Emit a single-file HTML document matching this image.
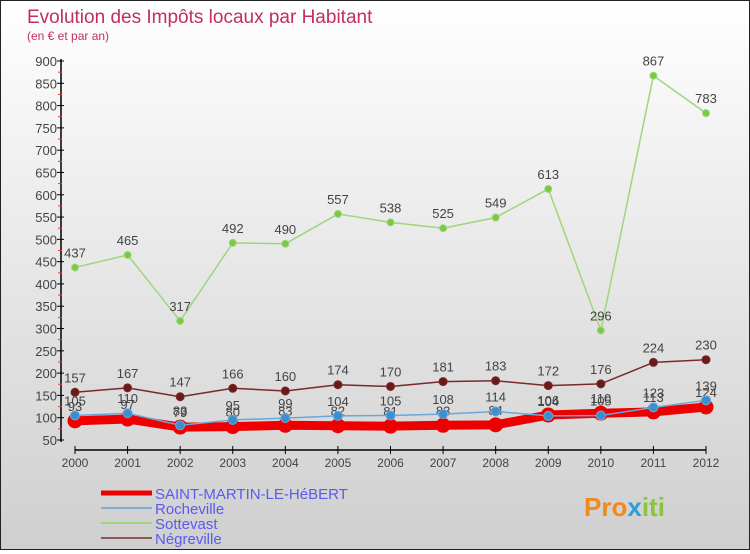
<!DOCTYPE html>
<html><head><meta charset="utf-8"><style>
html,body{margin:0;padding:0}
body{width:750px;height:550px;overflow:hidden;font-family:"Liberation Sans",sans-serif}
#wrap{position:relative;width:748px;height:548px;border:1px solid #222;background:linear-gradient(#ffffff,#f0f0f0 30%,#cfcfcf)}
</style></head><body>
<div id="wrap">
<svg id="chart" width="748" height="548" xmlns="http://www.w3.org/2000/svg">
<text x="26" y="22" font-size="19" fill="#c0305a">Evolution des Impôts locaux par Habitant</text>
<text x="26" y="39" font-size="12" fill="#c0305a">(en € et par an)</text>
<g id="axes"></g><g id="series"></g><g id="legend"></g>
</svg>
</div>
<script>
const years=[2000,2001,2002,2003,2004,2005,2006,2007,2008,2009,2010,2011,2012];
const yTicks=[50,100,150,200,250,300,350,400,450,500,550,600,650,700,750,800,850,900];
const saintMartin=[93,97,79,80,83,82,81,83,84,106,110,113,124];
const rocheville=[105,110,83,95,99,104,105,108,114,104,105,123,139];
const sottevast=[437,465,317,492,490,557,538,525,549,613,296,867,783];
const negreville=[157,167,147,166,160,174,170,181,183,172,176,224,230];
const NS="http://www.w3.org/2000/svg";
function xs(i){return 74+i*(705-74)/12;}
function ys(v){return 439-(v-50)*(439-60)/850;}
function mk(t,a,p){const e=document.createElementNS(NS,t);for(const k in a)e.setAttribute(k,a[k]);p.appendChild(e);return e;}
const ax=document.getElementById('axes');
const yAxis=mk('line',{x1:60,y1:58,x2:60,y2:441,stroke:'#000','stroke-width':1.5},ax);


const xAxis=mk('line',{x1:74,y1:449,x2:705,y2:449,stroke:'#000','stroke-width':1.5},ax);


yTicks.forEach(v=>{const y=ys(v);
 mk('line',{x1:56,y1:y,x2:63,y2:y,stroke:'#000'},ax);
 if(v<900)mk('line',{x1:57,y1:ys(v+25),x2:61,y2:ys(v+25),stroke:'#e33'},ax);
 const t=mk('text',{x:56,y:y+5,'font-size':13,fill:'#444','text-anchor':'end'},ax);t.textContent=v;
 
 
});
years.forEach((yr,i)=>{const x=xs(i);
 mk('line',{x1:x,y1:445,x2:x,y2:453,stroke:'#000'},ax);
 const t=mk('text',{x:x,y:466,'font-size':12,fill:'#444','text-anchor':'middle'},ax);t.textContent=yr;
 
 
});
const sg=document.getElementById('series');
function draw(data,color,w,r,dot,name){
 const g=mk('g',{},sg);
 
 
 mk('polyline',{points:data.map((v,i)=>xs(i)+','+ys(v)).join(' '),fill:'none',stroke:color,'stroke-width':w,'stroke-linejoin':'round'},g);
 data.forEach((v,i)=>{const c=mk('circle',{cx:xs(i),cy:ys(v),r:r,fill:dot,stroke:color,'stroke-width':1},g);
  
  
  const t=mk('text',{x:xs(i),y:ys(v)-10,'font-size':13,fill:'#444','text-anchor':'middle'},g);t.textContent=v;
  
  
 });
}
draw(sottevast,'#9ed67a',1.5,3.5,'#7ac943','series-sottevast');
draw(negreville,'#7a2a2a',1.5,4,'#6b1a1a','series-negreville');
draw(saintMartin,'#ee0000',9,7,'#ee0000','series-saint-martin');
draw(rocheville,'#6aa7d8',1.5,4.5,'#3a8fd0','series-rocheville');
const lg=document.getElementById('legend');
const items=[['SAINT-MARTIN-LE-HéBERT','#ee0000',5],['Rocheville','#7aaed4',2],['Sottevast','#9ed67a',2],['Négreville','#8a5a5a',2]];
items.forEach((it,i)=>{const y=492+i*15;
 const g=mk('g',{},lg);
 
 
 mk('line',{x1:100,y1:y,x2:151,y2:y,stroke:it[1],'stroke-width':it[2]},g);
 const t=mk('text',{x:154,y:y+6,'font-size':15,fill:'#5a5af0'},g);t.textContent=it[0];
});
const lo=mk('text',{x:583,y:515,'font-size':26,'font-weight':'bold',fill:'#f08a1a'},lg);
lo.innerHTML='<tspan>Pro</tspan><tspan fill="#2aa0d8">x</tspan><tspan fill="#8ac43a">iti</tspan>';


</script>
</body></html>
